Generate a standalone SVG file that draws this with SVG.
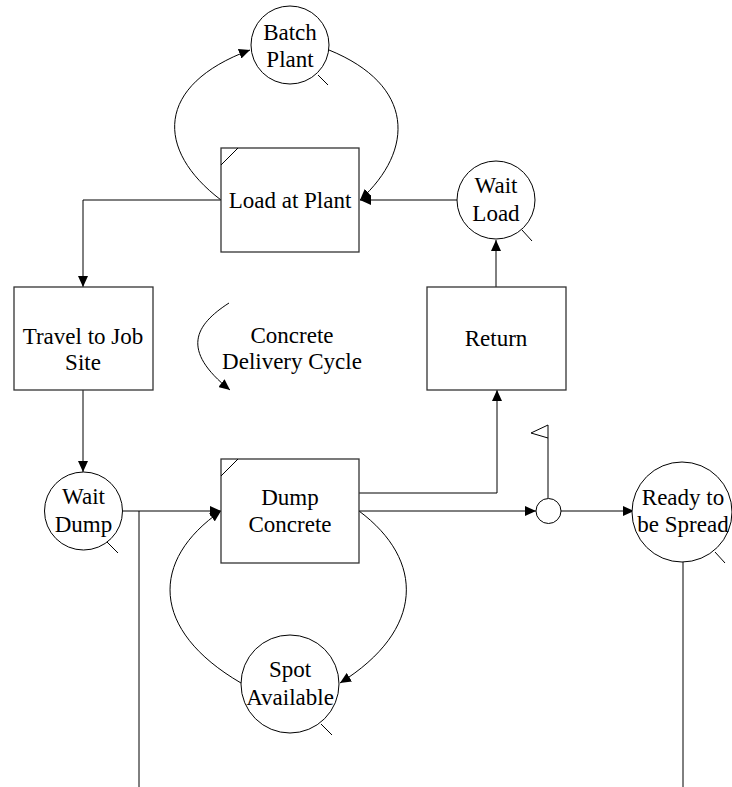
<svg xmlns="http://www.w3.org/2000/svg" width="732" height="787" viewBox="0 0 732 787">
<style>
.box{fill:#fff;stroke:#333;stroke-width:1.3}
.circ{fill:#fff;stroke:#000;stroke-width:1}
.ln{fill:none;stroke:#000;stroke-width:1}
.arr{fill:none;stroke:#000;stroke-width:1;marker-end:url(#ah)}
text{font-family:"Liberation Serif","Times New Roman",serif;font-size:23px;fill:#000;text-anchor:middle}
</style>
<defs>
<marker id="ah" markerUnits="userSpaceOnUse" markerWidth="12" markerHeight="10" refX="11" refY="5" orient="auto">
<path d="M0,0 L11,5 L0,10 Z" fill="#000"/>
</marker>
</defs>
<rect width="732" height="787" fill="#fff"/>
<g id="connectors">
<path class="arr" d="M221,200 C155,150 155,85 250,50"/>
<path class="arr" d="M329,50 C415,85 415,150 360,200"/>
<path class="arr" d="M458,200 L360,200"/>
<path class="arr" d="M496,287 L496,240"/>
<path class="arr" d="M221,200 L83,200 L83,287"/>
<path class="arr" d="M83,390 L83,472"/>
<path class="arr" d="M123,511 L221,511"/>
<path class="ln" d="M139,511 L139,787"/>
<path class="arr" d="M241,683 C150,630 150,560 221,511"/>
<path class="arr" d="M359,511 C425,560 425,630 340,683"/>
<path class="arr" d="M359,493 L497,493 L497,390"/>
<path class="arr" d="M359,511 L536,511"/>
<path class="arr" d="M561,511 L634,511"/>
<path class="ln" d="M683,562 L683,787"/>
<path class="arr" d="M229,303 C195,325 180,350 230,390"/>
</g>
<g id="batch-plant">
<circle class="circ" cx="290" cy="45" r="39"/>
<line class="ln" x1="318" y1="75" x2="328" y2="85"/>
<text x="290" y="40">Batch</text>
<text x="290" y="67">Plant</text>
</g>
<g id="load-at-plant">
<rect class="box" x="221" y="148" width="138" height="104"/>
<line class="ln" x1="221" y1="165" x2="238" y2="148"/>
<text x="290" y="208">Load at Plant</text>
</g>
<g id="wait-load">
<circle class="circ" cx="496" cy="200" r="39"/>
<line class="ln" x1="522" y1="230" x2="532" y2="241"/>
<text x="496" y="193">Wait</text>
<text x="496" y="221">Load</text>
</g>
<g id="travel">
<rect class="box" x="14" y="287" width="139" height="103"/>
<text x="83" y="344">Travel to Job</text>
<text x="83" y="370">Site</text>
</g>
<g id="cycle-label">
<text x="292" y="343">Concrete</text>
<text x="292" y="369">Delivery Cycle</text>
</g>
<g id="return">
<rect class="box" x="427" y="287" width="139" height="103"/>
<text x="496" y="346">Return</text>
</g>
<g id="wait-dump">
<circle class="circ" cx="83.5" cy="511" r="39"/>
<line class="ln" x1="107" y1="542" x2="118" y2="553"/>
<text x="83.5" y="504">Wait</text>
<text x="83.5" y="532">Dump</text>
</g>
<g id="dump-concrete">
<rect class="box" x="221" y="459" width="138" height="104"/>
<line class="ln" x1="221" y1="476" x2="238" y2="459"/>
<text x="290" y="505">Dump</text>
<text x="290" y="532">Concrete</text>
</g>
<g id="counter">
<line class="ln" x1="548" y1="425" x2="548" y2="498"/>
<path class="ln" d="M548,425 L531,433 L548,438"/>
<circle class="circ" cx="548.5" cy="511" r="12.5"/>
</g>
<g id="ready-to-be-spread">
<circle class="circ" cx="682" cy="512" r="50"/>
<line class="ln" x1="715" y1="552" x2="725" y2="563"/>
<text x="683" y="505">Ready to</text>
<text x="683" y="532">be Spread</text>
</g>
<g id="spot-available">
<circle class="circ" cx="290" cy="684" r="49"/>
<line class="ln" x1="321" y1="724" x2="332" y2="735"/>
<text x="290" y="677">Spot</text>
<text x="290" y="705">Available</text>
</g>
</svg>
